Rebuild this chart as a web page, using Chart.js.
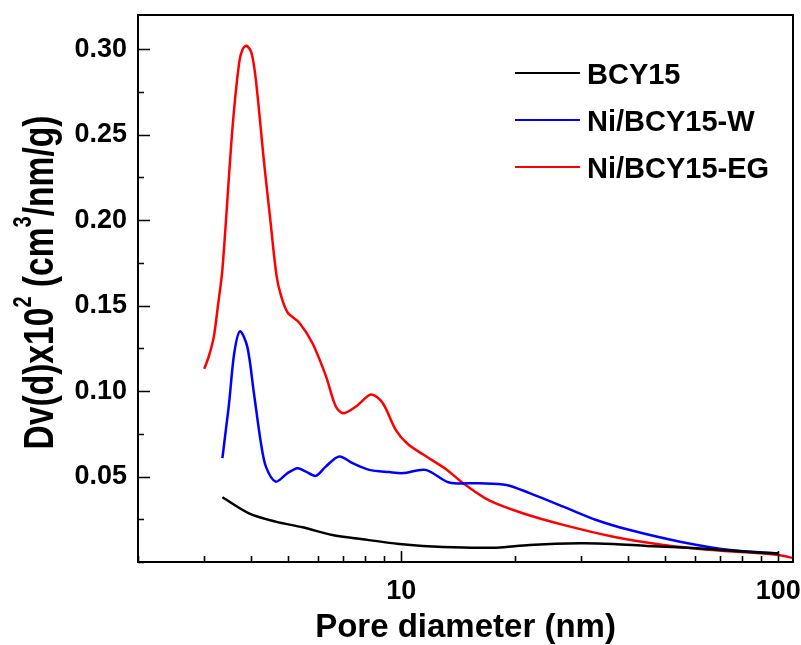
<!DOCTYPE html>
<html>
<head>
<meta charset="utf-8">
<script src="https://cdn.jsdelivr.net/npm/chart.js@4.4.0/dist/chart.umd.min.js"></script>
<style>
  html, body { margin: 0; padding: 0; background: #fff; }
  #wrap { width: 801px; height: 645px; }
</style>
</head>
<body>
<div id="wrap"><canvas id="poreCanvas"></canvas></div>
<script>
// series (pore diameter in nm, Dv(d) x 10^2)
const seriesNames = ['BCY15', 'Ni/BCY15-W', 'Ni/BCY15-EG'];
const seriesColors = ['#000000', '#0000ff', '#ff0000'];

const bcyX = [3.35, 3.94, 4.64, 5.47, 6.56, 7.89, 9.88, 11.4, 14.6, 17.9, 21.9, 29.8, 36.5, 44.8, 60.7, 82.4, 100];
const bcyY = [0.0379, 0.0285, 0.0236, 0.0203, 0.0158, 0.0133, 0.0105, 0.0094, 0.0085, 0.0084, 0.0100, 0.0110, 0.0106, 0.0094, 0.0080, 0.0060, 0.0050];

const niwX = [3.35, 3.42, 3.49, 3.60, 3.73, 3.90, 4.06, 4.24, 4.37, 4.64, 4.99, 5.30, 5.58, 5.93, 6.30, 6.84, 7.42, 8.22, 9.29, 10.1, 11.6, 13.4, 16.1, 19.0, 21.9, 26.9, 32.9, 40.4, 54.9, 74.5, 100];
const niwY = [0.0608, 0.077, 0.093, 0.122, 0.135, 0.126, 0.099, 0.0695, 0.0558, 0.047, 0.052, 0.0549, 0.0529, 0.0504, 0.0558, 0.0617, 0.0578, 0.0539, 0.0526, 0.052, 0.0539, 0.0465, 0.0461, 0.0451, 0.0403, 0.0324, 0.0246, 0.0187, 0.0119, 0.0070, 0.0051];

const niegX = [3.0, 3.09, 3.18, 3.26, 3.35, 3.56, 3.71, 3.79, 3.88, 4.00, 4.11, 4.32, 4.49, 4.66, 4.79, 4.99, 5.36, 5.81, 6.30, 6.70, 7.01, 7.58, 8.31, 8.92, 9.68, 10.4, 11.4, 13.2, 14.6, 17.1, 21.0, 26.9, 36.5, 49.6, 67.3, 100, 110];
const niegY = [0.113, 0.121, 0.132, 0.150, 0.171, 0.253, 0.292, 0.300, 0.302, 0.298, 0.282, 0.234, 0.200, 0.168, 0.156, 0.146, 0.140, 0.128, 0.109, 0.091, 0.087, 0.091, 0.098, 0.093, 0.077, 0.069, 0.063, 0.054, 0.046, 0.036, 0.0285, 0.0217, 0.0148, 0.0100, 0.0070, 0.0041, 0.0022];

// axis ticks
const xTicks = [2, 3, 4, 5, 6, 7, 8, 9, 10, 20, 30, 40, 50, 60, 70, 80, 90, 100];
const xLabeled = [10, 100];
const yTicks = [0, 0.025, 0.05, 0.075, 0.10, 0.125, 0.15, 0.175, 0.20, 0.225, 0.25, 0.275, 0.30];
const yLabeled = [0.05, 0.10, 0.15, 0.20, 0.25, 0.30];

const xTitle = 'Pore diameter (nm)';
const yTitleParts = [['Dv(d)x10', false], ['2', true], [' (cm', false], ['3', true], ['/nm/g)', false]];

const FONT = "'Liberation Sans', Arial, sans-serif";

function toPoints(xs, ys) {
    return xs.map((v, i) => ({ x: v, y: ys[i] }));
}

function isLabeled(list, v) {
    return list.some(t => Math.abs(t - v) < 1e-9);
}

// box frame + inward tick marks
const frameTicks = {
    id: 'frameTicks',
    afterDatasetsDraw(chart) {
        const { ctx, chartArea: a, scales: { x, y } } = chart;
        ctx.save();
        ctx.strokeStyle = '#000';
        ctx.lineWidth = 1.6;
        ctx.beginPath();
        xTicks.forEach(v => {
            const px = Math.round(x.getPixelForValue(v)) + 0.5;
            const len = isLabeled(xLabeled, v) ? 11 : 6;
            ctx.moveTo(px, a.bottom);
            ctx.lineTo(px, a.bottom - len);
        });
        yTicks.forEach(v => {
            const py = Math.round(y.getPixelForValue(v)) + 0.5;
            const len = isLabeled(yLabeled, v) ? 12 : 6;
            ctx.moveTo(a.left, py);
            ctx.lineTo(a.left + len, py);
        });
        ctx.stroke();
        ctx.lineWidth = 2;
        ctx.strokeRect(a.left, a.top, a.right - a.left, a.bottom - a.top);
        ctx.restore();
    }
};

// legend inside the plot, top right
const innerLegend = {
    id: 'innerLegend',
    afterDraw(chart) {
        const ctx = chart.ctx;
        ctx.save();
        ctx.font = 'bold 29px ' + FONT;
        ctx.textBaseline = 'alphabetic';
        ctx.textAlign = 'left';
        chart.data.datasets.forEach((ds, i) => {
            const ly = 73 + i * 47;
            ctx.strokeStyle = ds.borderColor;
            ctx.lineWidth = 2;
            ctx.beginPath();
            ctx.moveTo(515, ly);
            ctx.lineTo(580, ly);
            ctx.stroke();
            ctx.fillStyle = '#000';
            ctx.fillText(ds.label, 587, ly + 10.5);
        });
        ctx.restore();
    }
};

// rotated y title with superscripts
const yTitle = {
    id: 'yTitle',
    afterDraw(chart) {
        const ctx = chart.ctx;
        const a = chart.chartArea;
        const main = 'bold 42px ' + FONT;
        const sup = 'bold 25px ' + FONT;
        ctx.save();
        let total = 0;
        yTitleParts.forEach(([t, s]) => {
            ctx.font = s ? sup : main;
            total += ctx.measureText(t).width;
        });
        const squeeze = 0.8;
        ctx.translate(53, (a.top + a.bottom) / 2 - 6);
        ctx.rotate(-Math.PI / 2);
        ctx.scale(squeeze, 1);
        ctx.fillStyle = '#000';
        ctx.textBaseline = 'alphabetic';
        let cx = -total / 2;
        yTitleParts.forEach(([t, s]) => {
            ctx.font = s ? sup : main;
            ctx.fillText(t, cx, s ? -22 : 0);
            cx += ctx.measureText(t).width;
        });
        ctx.restore();
    }
};

function initPoreChart() {
    const ctx = document.getElementById('poreCanvas').getContext('2d');
    const xs = [bcyX, niwX, niegX];
    const ys = [bcyY, niwY, niegY];

    new Chart(ctx, {
        type: 'line',
        data: {
            datasets: seriesNames.map((name, i) => ({
                label: name,
                data: toPoints(xs[i], ys[i]),
                borderColor: seriesColors[i],
                backgroundColor: seriesColors[i],
                borderWidth: 2.5,
                pointRadius: 0,
                tension: 0.3,
                fill: false
            }))
        },
        options: {
            responsive: true,
            maintainAspectRatio: false,
            animation: false,
            layout: { padding: { top: 15, right: 8, left: 0, bottom: 0 } },
            plugins: {
                legend: { display: false },
                tooltip: { enabled: false }
            },
            scales: {
                x: {
                    type: 'logarithmic',
                    min: 2,
                    max: 109.5,
                    grid: { display: false, drawTicks: false, tickLength: 0 },
                    border: { display: false },
                    afterBuildTicks: s => { s.ticks = xTicks.map(v => ({ value: v })); },
                    afterFit: s => {
                        s.height = 83;
                        s.paddingLeft = 0;
                        s.paddingRight = 0;
                    },
                    ticks: {
                        autoSkip: false,
                        maxRotation: 0,
                        padding: 13,
                        color: '#000',
                        font: { family: FONT, size: 27, weight: 'bold' },
                        callback: v => isLabeled(xLabeled, v) ? String(v) : ''
                    },
                    title: {
                        display: true,
                        text: xTitle,
                        color: '#000',
                        padding: { top: 0, bottom: 1 },
                        font: { family: FONT, size: 33, weight: 'bold', lineHeight: 1 }
                    }
                },
                y: {
                    type: 'linear',
                    min: 0,
                    max: 0.32,
                    grid: { display: false, drawTicks: false, tickLength: 0 },
                    border: { display: false },
                    afterBuildTicks: s => { s.ticks = yTicks.map(v => ({ value: v })); },
                    afterFit: s => {
                        s.width = 138;
                        s.paddingTop = 0;
                        s.paddingBottom = 0;
                    },
                    ticks: {
                        autoSkip: false,
                        padding: 11,
                        color: '#000',
                        font: { family: FONT, size: 27, weight: 'bold' },
                        callback: v => isLabeled(yLabeled, v) ? Number(v).toFixed(2) : ''
                    }
                }
            }
        },
        plugins: [frameTicks, innerLegend, yTitle]
    });
}

document.addEventListener('DOMContentLoaded', function() {
    initPoreChart();
});
</script>
</body>
</html>
